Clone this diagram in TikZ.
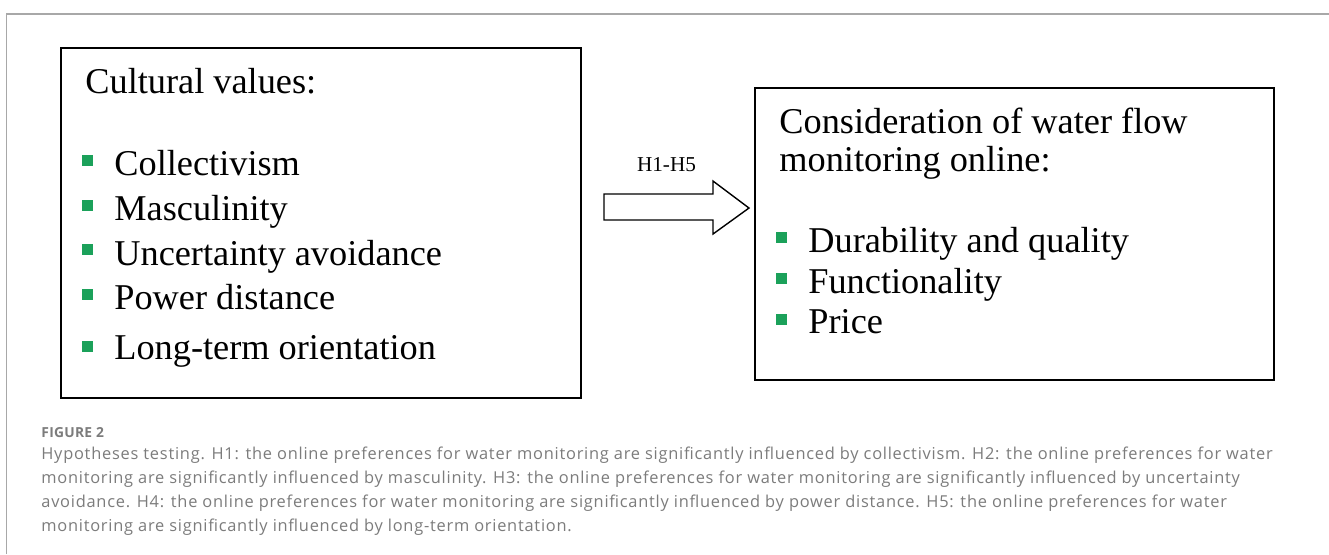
\documentclass[tikz,border=0pt]{standalone}
\usepackage{fontspec}
\setmainfont{Liberation Serif}
\newfontfamily\capfont[LetterSpace=4.6]{Open Sans}
\newfontfamily\captitlefont[LetterSpace=2]{Open Sans}
\definecolor{bulletgreen}{HTML}{1BA15A}
\definecolor{capgray}{HTML}{7C7C7C}
\definecolor{framegray}{HTML}{A8A8A8}
\tikzset{
  box/.style={draw=black, line width=1.25pt, inner sep=0pt, fill=white},
  head/.style={font=\fontsize{18.15pt}{20pt}\selectfont, inner sep=0pt, anchor=base west},
  item/.style={font=\fontsize{18.15pt}{20pt}\selectfont, inner sep=0pt, anchor=base west},
  sq/.style={fill=bulletgreen, draw=none, minimum size=5.5pt, inner sep=0pt},
  hyp/.style={font=\fontsize{10.6pt}{12pt}\selectfont, inner sep=0pt, anchor=base},
  capline/.style={font=\capfont\fontsize{8.2pt}{9pt}\selectfont, text=capgray, inner sep=0pt, anchor=base west},
  captitle/.style={font=\captitlefont\bfseries\fontsize{6.9pt}{8pt}\selectfont, text=capgray, inner sep=0pt, anchor=base west},
  blockarrow/.style={draw=black, line width=0.7pt, fill=white, line join=miter}
}
\begin{document}
\begin{tikzpicture}[x=0.5pt, y=-0.5pt]
\useasboundingbox (0,0) rectangle (1329,554);
\fill[white] (0,0) rectangle (1329,554);

% panel frame
\draw[framegray, line width=0.75pt] (6.5,554) -- (6.5,14) -- (1329,14);

% cultural values box
\node[box, minimum width=260pt, minimum height=175pt] (cult) at (321,223) {};
\node[head] (cultT) at (85,93) {Cultural values:};
\node[sq] (cb1) at (87.5,160) {};
\node[item] (ci1) at (114,175) {Collectivism};
\node[sq] (cb2) at (87.5,205) {};
\node[item] (ci2) at (114,220) {Masculinity};
\node[sq] (cb3) at (87.5,249) {};
\node[item] (ci3) at (114,265) {Uncertainty avoidance};
\node[sq] (cb4) at (87.5,294) {};
\node[item] (ci4) at (114,309) {Power distance};
\node[sq] (cb5) at (87.5,346) {};
\node[item] (ci5) at (114,359) {Long-term orientation};

% consideration box
\node[box, minimum width=259.5pt, minimum height=146pt] (cons) at (1014.5,234) {};
\node[head] (consT1) at (779,133) {Consideration of water flow};
\node[head] (consT2) at (779,171) {monitoring online:};
\node[sq] (kb1) at (781.5,237.5) {};
\node[item] (ki1) at (808,252) {Durability and quality};
\node[sq] (kb2) at (781.5,278.5) {};
\node[item] (ki2) at (808,293) {Functionality};
\node[sq] (kb3) at (781.5,319) {};
\node[item] (ki3) at (808,333) {Price};

% hypotheses arrow between the boxes
\draw[blockarrow] (604,194) -- (713,194) -- (713,181) -- (749,208)
  -- (713,234) -- (713,220) -- (604,220) -- cycle;
\node[hyp] (hlabel) at (666.5,171) {H1-H5};

% caption
\node[captitle] (capT) at (41,437) {FIGURE 2};
\node[capline] (cap1) at (41,459) {Hypotheses testing. H1: the online preferences for water monitoring are significantly influenced by collectivism. H2: the online preferences for water};
\node[capline] (cap2) at (41,483) {monitoring are significantly influenced by masculinity. H3: the online preferences for water monitoring are significantly influenced by uncertainty};
\node[capline] (cap3) at (41,507) {avoidance. H4: the online preferences for water monitoring are significantly influenced by power distance. H5: the online preferences for water};
\node[capline] (cap4) at (41,531) {monitoring are significantly influenced by long-term orientation.};
\end{tikzpicture}
\end{document}
